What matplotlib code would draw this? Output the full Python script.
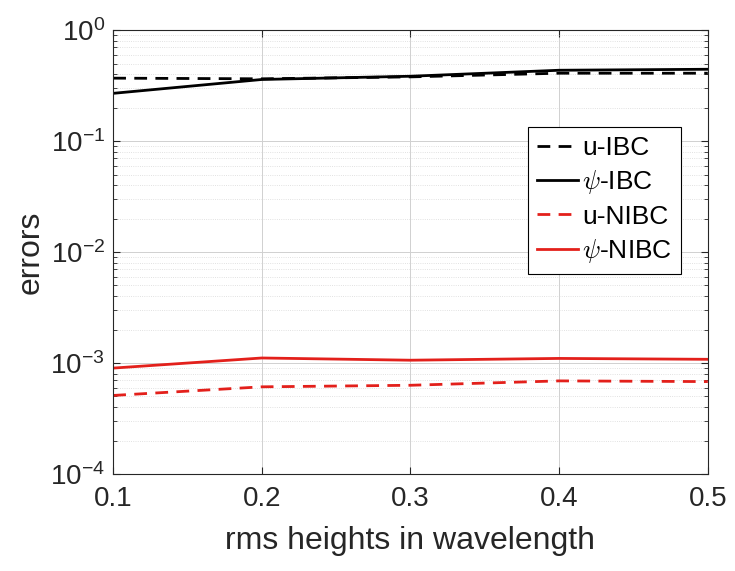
import numpy as np
import matplotlib.pyplot as plt
from matplotlib.ticker import LogLocator, NullFormatter

plt.rcParams["font.family"] = ["Liberation Sans", "DejaVu Sans"]
plt.rcParams["mathtext.fontset"] = "cm"

# data
rms = [0.1, 0.2, 0.3, 0.4, 0.5]
u_ibc = [0.37, 0.365, 0.38, 0.41, 0.41]
psi_ibc = [0.27, 0.36, 0.385, 0.436, 0.445]
u_nibc = [5.1e-4, 6.1e-4, 6.3e-4, 6.9e-4, 6.8e-4]
psi_nibc = [9.0e-4, 1.11e-3, 1.06e-3, 1.10e-3, 1.08e-3]

RED = "#e3201b"
DASH = (0, (4.6, 3.0))

fig = plt.figure(figsize=(7.35, 5.71), dpi=100)
ax = fig.add_axes([0.154, 0.170, 0.809, 0.777])

ax.semilogy(rms, u_ibc, ls=DASH, color="black", lw=2, label="u-IBC")
ax.semilogy(rms, psi_ibc, "-", color="black", lw=2, label=r"$\psi$-IBC")
ax.semilogy(rms, u_nibc, ls=DASH, color=RED, lw=2, label="u-NIBC")
ax.semilogy(rms, psi_nibc, "-", color=RED, lw=2, label=r"$\psi$-NIBC")

ax.set_xlim(0.1, 0.5)
ax.set_ylim(1e-4, 1e0)
ax.set_xticks([0.1, 0.2, 0.3, 0.4, 0.5])
ax.set_xticklabels(["0.1", "0.2", "0.3", "0.4", "0.5"])
ax.yaxis.set_major_locator(LogLocator(base=10, numticks=10))
ax.yaxis.set_minor_locator(LogLocator(base=10, subs=np.arange(2, 10), numticks=20))
ax.yaxis.set_minor_formatter(NullFormatter())

ax.grid(True, which="major", color="#d0d0d0", lw=0.7)
ax.grid(True, which="minor", axis="y", color="#d8d8d8", lw=0.6, ls=":")
ax.set_axisbelow(True)

ax.tick_params(which="both", direction="in", top=True, right=True,
               labelsize=20, colors="#262626")
ax.tick_params(axis="x", which="major", pad=9)
ax.tick_params(axis="y", which="major", pad=6)
ax.tick_params(which="major", length=5)
ax.tick_params(which="minor", length=3)
for s in ax.spines.values():
    s.set_color("#262626")
    s.set_linewidth(0.8)

ax.set_xlabel("rms heights in wavelength", fontsize=23, color="#262626",
              labelpad=10)
ax.set_ylabel("errors", fontsize=23, color="#262626", labelpad=3)

leg = ax.legend(loc="upper right", bbox_to_anchor=(0.955, 0.783), fontsize=19,
                fancybox=False, framealpha=1, edgecolor="black",
                handlelength=1.55, handletextpad=0.15, borderpad=0.35,
                labelspacing=0.32, borderaxespad=0.0)
leg.get_frame().set_linewidth(0.8)

fig.savefig("out.png", dpi=100)
